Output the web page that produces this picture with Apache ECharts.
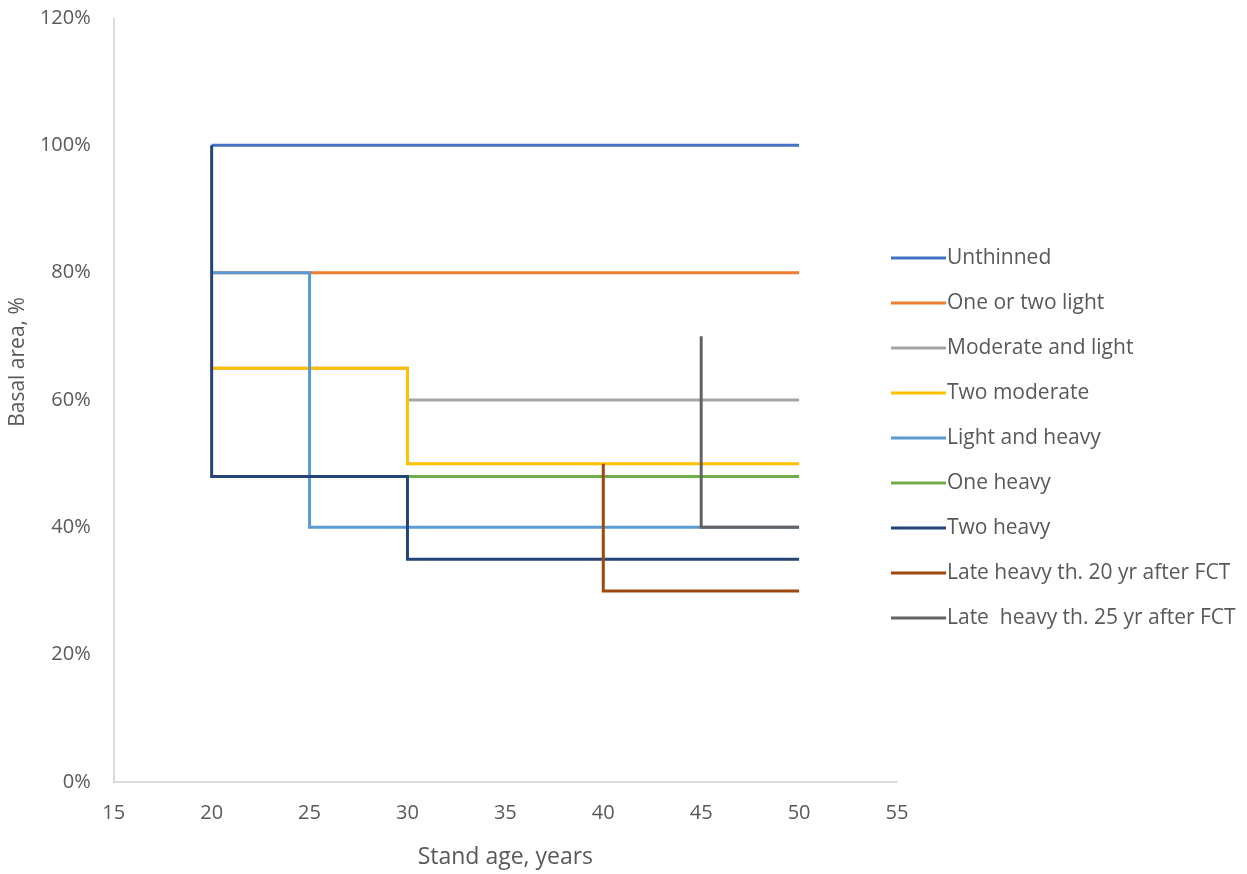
<!DOCTYPE html>
<html>
<head>
<meta charset="utf-8">
<script src="https://cdn.jsdelivr.net/npm/echarts@6/dist/echarts.min.js"></script>
<style>html,body{margin:0;padding:0;background:#fff}#c{width:1247px;height:874px}</style>
</head>
<body>
<div id="c"></div>
<script>
// Data: [stand age (years), basal area (%)]
const unthinned = [[20, 100], [50, 100]];
const oneOrTwoLight = [[20, 80], [50, 80]];
const moderateAndLight = [[20, 65], [30, 65], [30, 60], [50, 60]];
const twoModerate = [[20, 65], [30, 65], [30, 50], [50, 50]];
const lightAndHeavy = [[20, 80], [25, 80], [25, 40], [50, 40]];
const oneHeavy = [[20, 48], [50, 48]];
const twoHeavy = [[20, 100], [20, 48], [30, 48], [30, 35], [50, 35]];
const lateHeavy20 = [[40, 50], [40, 30], [50, 30]];
const lateHeavy25 = [[45, 70], [45, 40], [50, 40]];

const seriesNames = ['Unthinned', 'One or two light', 'Moderate and light', 'Two moderate',
  'Light and heavy', 'One heavy', 'Two heavy', 'Late heavy th. 20 yr after FCT', 'Late  heavy th. 25 yr after FCT'];
const seriesData = [unthinned, oneOrTwoLight, moderateAndLight, twoModerate, lightAndHeavy, oneHeavy, twoHeavy, lateHeavy20, lateHeavy25];
const colors = ['#4472C4', '#ED7D31', '#A5A5A5', '#FFC000', '#5B9BD5', '#70AD47', '#264478', '#9E480E', '#636363'];

const xTicks = { min: 15, max: 55, interval: 5 };
const yTicks = { min: 0, max: 120, interval: 20 };

const font = 'Open Sans';
const chart = echarts.init(document.getElementById('c'), null, { renderer: 'canvas' });
chart.setOption({
  animation: false,
  color: colors,
  grid: { left: 111, right: 350, top: 18, bottom: 82, containLabel: false },
  legend: {
    orient: 'vertical',
    left: 886,
    top: 241,
    icon: 'rect',
    itemWidth: 55,
    itemHeight: 3,
    itemGap: 21,
    textStyle: { color: '#595959', fontSize: 21, fontFamily: font, lineHeight: 24, padding: [0, 0, 0, -4] },
    data: seriesNames
  },
  xAxis: {
    type: 'value',
    min: xTicks.min, max: xTicks.max, interval: xTicks.interval,
    name: 'Stand age, years',
    nameLocation: 'middle',
    nameGap: 64,
    nameTextStyle: { color: '#595959', fontSize: 23, fontFamily: font },
    axisLine: { show: true, lineStyle: { color: '#D0D0D0', width: 1.5 } },
    axisTick: { show: false },
    splitLine: { show: false },
    axisLabel: { color: '#595959', fontSize: 20, fontFamily: font, margin: 21 }
  },
  yAxis: {
    type: 'value',
    min: yTicks.min, max: yTicks.max, interval: yTicks.interval,
    name: 'Basal area, %',
    nameLocation: 'middle',
    nameGap: 80,
    nameTextStyle: { color: '#595959', fontSize: 21, fontFamily: font, padding: [0, 0, 0, 76] },
    axisLine: { show: true, lineStyle: { color: '#D0D0D0', width: 1.5 } },
    axisTick: { show: false },
    splitLine: { show: false },
    axisLabel: { color: '#595959', fontSize: 20, fontFamily: font, margin: 23, formatter: '{value}%' }
  },
  series: seriesNames.map((n, i) => ({
    name: n,
    type: 'line',
    data: seriesData[i],
    showSymbol: false,
    symbol: 'none',
    lineStyle: { width: 3, color: colors[i], join: 'miter' },
    itemStyle: { color: colors[i] },
    z: 2 + i
  }))
});
</script>
</body>
</html>
